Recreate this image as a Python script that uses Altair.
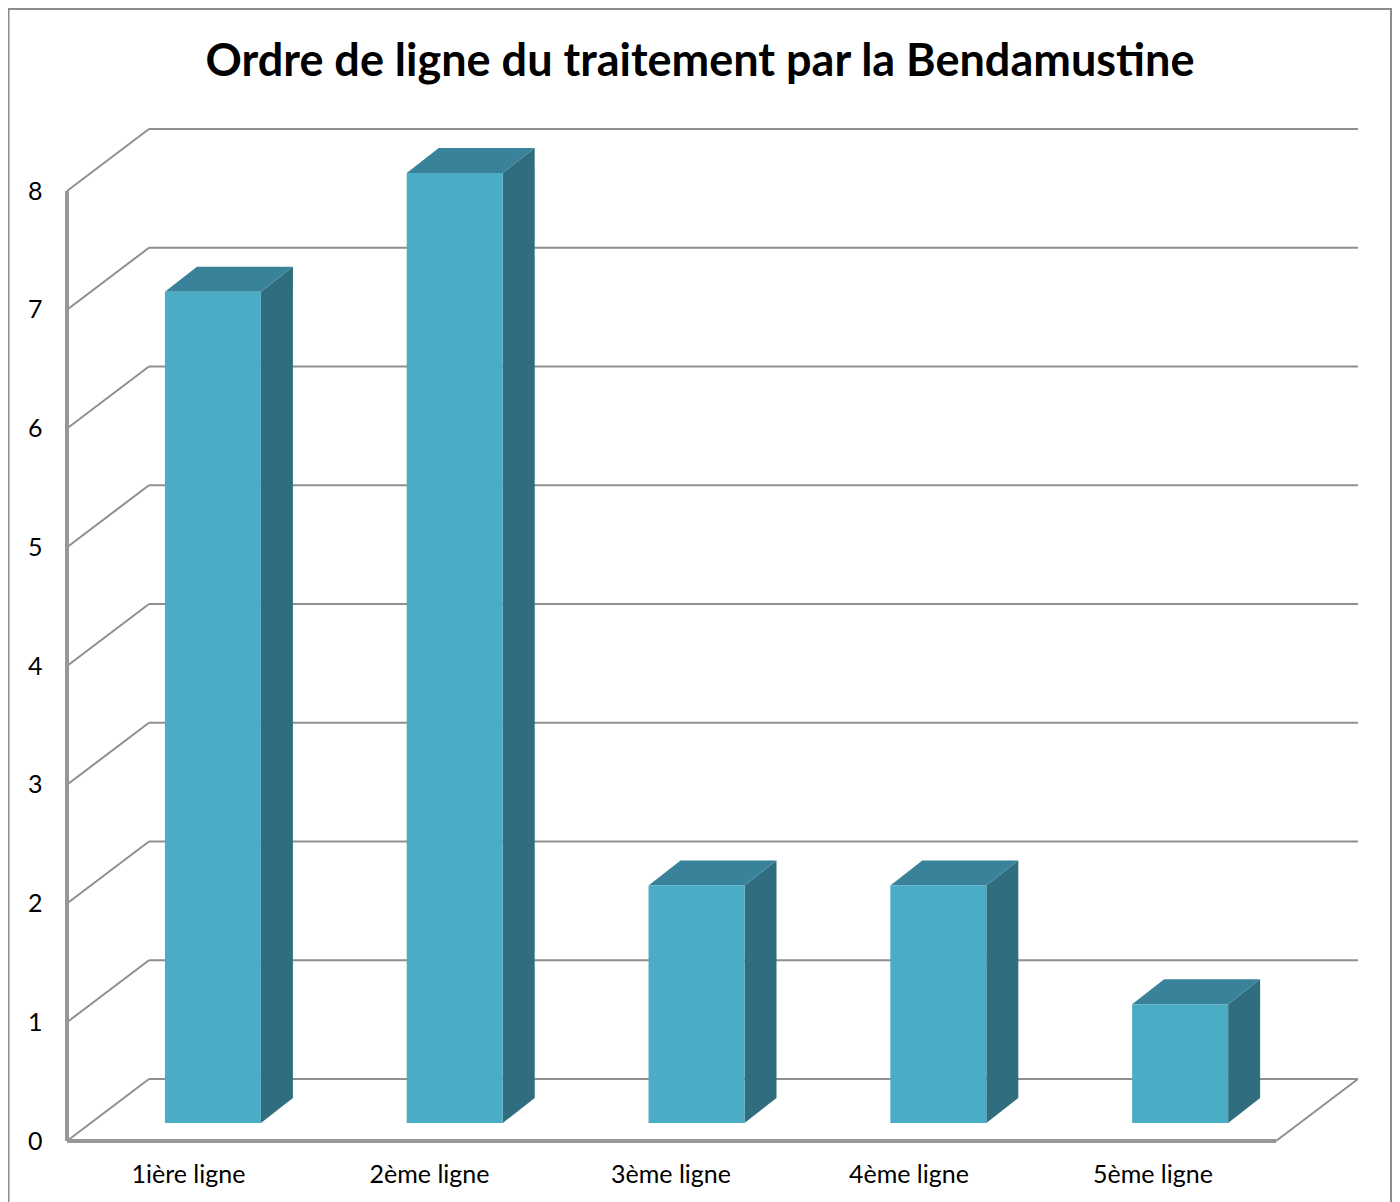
import altair as alt
import pandas as pd

# Chart values
categories = ["1ière ligne", "2ème ligne", "3ème ligne", "4ème ligne", "5ème ligne"]
values = [7, 8, 2, 2, 1]
levels = [0, 1, 2, 3, 4, 5, 6, 7, 8]
label_positions = [0.50, 1.497, 2.496, 3.48, 4.489]
title_text = "Ordre de ligne du traitement par la Bendamustine"

# 3D projection, expressed in axis units
WALL_DX, WALL_DY = 0.339, 0.522
BAR_X0, BAR_W = 0.405, 0.397
BAR_BASE = 0.1516
BAR_DX, BAR_DY = 0.1323, 0.2105

W, H = 1384, 1194
FONT = "Lato"
GRID = "#8f8f8f"
AXIS = "#979797"
FRAME = "#8c8c8c"
FRONT, TOP, SIDE = "#4BACC6", "#38829A", "#306E7F"

xs = alt.Scale(domain=[0, 5], range=[59, 1268], nice=False, zero=False)
ys = alt.Scale(domain=[0, 8], range=[1133, 183], nice=False, zero=False)

label_expr = "[" + ",".join(f"'{c}'" for c in categories) + "][floor(datum.value)]"
x_axis = alt.Axis(
    title=None, values=label_positions, labelExpr=label_expr,
    grid=False, domain=False, ticks=False, orient="bottom", offset=-(H - 1166),
    labelFontSize=25, labelFont=FONT, labelColor="black", labelBaseline="middle",
    labelPadding=0, labelFlush=False, labelOverlap=False, labelAngle=0)
y_axis = alt.Axis(
    title=None, values=levels, format="d", grid=False, domain=False, ticks=False,
    orient="left", offset=-34, labelFontSize=25, labelFont=FONT, labelColor="black",
    labelBaseline="middle", labelPadding=0, labelOverlap=False, labelFlush=False)
X = lambda f: alt.X(f, type="quantitative", scale=xs, axis=x_axis)
Y = lambda f: alt.Y(f, type="quantitative", scale=ys, axis=y_axis)

# Back wall horizontal lines
back = pd.DataFrame({"level": levels})
back["y"] = back["level"] + WALL_DY
back["x1"] = WALL_DX
back["x2"] = len(categories) + WALL_DX
back_layer = alt.Chart(back).mark_rule(color=GRID, strokeWidth=2).encode(
    x=X("x1"), x2="x2:Q", y=Y("y"))

# Left wall diagonals
side_rows = []
for v in levels:
    side_rows.append({"level": v, "x": 0, "y": v})
    side_rows.append({"level": v, "x": WALL_DX, "y": v + WALL_DY})
side_layer = alt.Chart(pd.DataFrame(side_rows)).mark_line(color=GRID, strokeWidth=2).encode(
    x=X("x"), y=Y("y"), detail="level:N")

# Floor, right diagonal
floor_diag = pd.DataFrame({"x": [len(categories), len(categories) + WALL_DX], "y": [0, WALL_DY]})
floor_layer = alt.Chart(floor_diag).mark_line(color=GRID, strokeWidth=2).encode(x=X("x"), y=Y("y"))

# Front axis lines
h_axis = alt.Chart(pd.DataFrame({"x": [0], "x2": [len(categories)], "y": [0]})).mark_rule(
    color=AXIS, strokeWidth=4).encode(x=X("x"), x2="x2:Q", y=Y("y"))
v_axis = alt.Chart(pd.DataFrame({"x": [0], "y": [0], "y2": [max(levels)]})).mark_rule(
    color=AXIS, strokeWidth=4).encode(x=X("x"), y=Y("y"), y2="y2:Q")

# Bars
front_rows, side_rows2, top_rows = [], [], []
for i, (c, v) in enumerate(zip(categories, values)):
    xl = i + BAR_X0
    xr = xl + BAR_W
    ytop = BAR_BASE + v
    front_rows.append({"c": c, "x": xl, "x2": xr, "y": BAR_BASE, "y2": ytop})
    side_rows2.append({"c": c, "x": xr, "y": BAR_BASE, "y2": ytop})
    side_rows2.append({"c": c, "x": xr + BAR_DX, "y": BAR_BASE + BAR_DY, "y2": ytop + BAR_DY})
    top_rows.append({"c": c, "y": ytop, "x": xl, "x2": xr})
    top_rows.append({"c": c, "y": ytop + BAR_DY, "x": xl + BAR_DX, "x2": xr + BAR_DX})

bar_side = alt.Chart(pd.DataFrame(side_rows2)).mark_area(color=SIDE, orient="vertical").encode(
    x=X("x"), y=Y("y"), y2="y2:Q", detail="c:N")
bar_top = alt.Chart(pd.DataFrame(top_rows)).mark_area(color=TOP, orient="horizontal").encode(
    y=Y("y"), x=X("x"), x2="x2:Q", detail="c:N")
bar_front = alt.Chart(pd.DataFrame(front_rows)).mark_rect(color=FRONT).encode(
    x=X("x"), x2="x2:Q", y=Y("y"), y2="y2:Q")

# Outer frame of the picture: left, top and right edges (the bottom edge lies off the page)
frame_data = alt.Data(values=[{}])
frame_left = alt.Chart(frame_data).mark_rule(color=FRAME, strokeWidth=2).encode(
    x=alt.value(0.5), y=alt.value(1), y2=alt.value(H))
frame_right = alt.Chart(frame_data).mark_rule(color=FRAME, strokeWidth=2).encode(
    x=alt.value(W - 1), y=alt.value(1), y2=alt.value(H))
frame_top = alt.Chart(frame_data).mark_rule(color=FRAME, strokeWidth=2).encode(
    x=alt.value(0), x2=alt.value(W), y=alt.value(1))

chart = (
    alt.layer(frame_left, frame_right, frame_top, back_layer, side_layer, floor_layer,
              h_axis, v_axis, bar_side, bar_top, bar_front)
    .properties(
        width=W, height=H, padding=0, autosize=alt.AutoSizeParams(type="none"),
        background="white",
        title=alt.TitleParams(title_text, anchor="middle", frame="group", font=FONT,
                              fontSize=45, fontWeight="bold", color="black",
                              baseline="alphabetic", offset=-113, dx=0),
    )
    .configure_view(stroke="transparent")
)
chart.save("out.html", embed_options={"renderer": "svg", "actions": False})
